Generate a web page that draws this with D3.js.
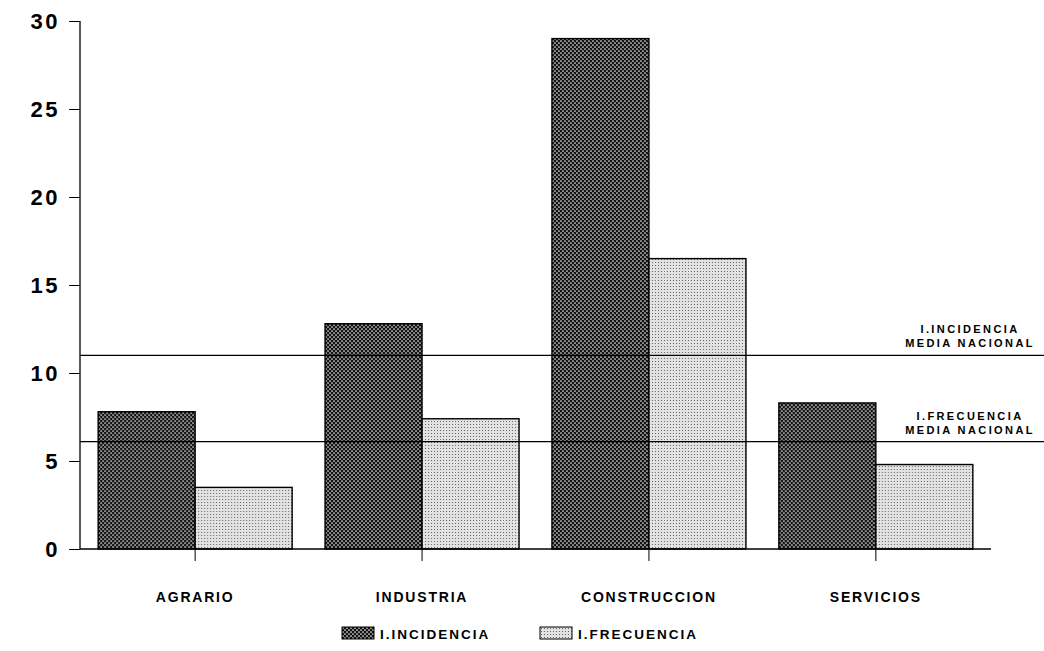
<!DOCTYPE html>
<html>
<head>
<meta charset="utf-8">
<script src="https://cdn.jsdelivr.net/npm/d3@7"></script>
<style>
  body { margin: 0; background: white; }
  #chart text { font-family: "Liberation Sans", Arial, sans-serif; font-weight: bold; fill: black; }
</style>
</head>
<body>
<div id="chart"></div>
<script>
// Data
var sectores = ["AGRARIO", "INDUSTRIA", "CONSTRUCCION", "SERVICIOS"];
var incidencia = [7.8, 12.8, 29.0, 8.3];
var frecuencia = [3.5, 7.4, 16.5, 4.8];
var series = ["I.INCIDENCIA", "I.FRECUENCIA"];
var mediaIncidencia = 11.0;
var mediaFrecuencia = 6.1;
var yTicks = [0, 5, 10, 15, 20, 25, 30];

function DrawChart() {
    var w = 1044, h = 651;

    var svg = d3.select("#chart").append("svg")
        .attr("width", w)
        .attr("height", h);

    // Halftone-like fills
    var defs = svg.append("defs");
    var dark = defs.append("pattern")
        .attr("id", "pdark")
        .attr("patternUnits", "userSpaceOnUse")
        .attr("width", 4).attr("height", 4);
    dark.append("rect").attr("width", 4).attr("height", 4).attr("fill", "#111");
    dark.append("circle").attr("cx", 1).attr("cy", 1).attr("r", 0.85).attr("fill", "#f4f4f4");
    dark.append("circle").attr("cx", 3).attr("cy", 3).attr("r", 0.85).attr("fill", "#f4f4f4");

    var light = defs.append("pattern")
        .attr("id", "plight")
        .attr("patternUnits", "userSpaceOnUse")
        .attr("width", 3).attr("height", 3);
    light.append("rect").attr("width", 3).attr("height", 3).attr("fill", "#e2e2e2");
    light.append("rect").attr("x", 1).attr("y", 1).attr("width", 1).attr("height", 1).attr("fill", "#666");

    var fills = ["url(#pdark)", "url(#plight)"];

    // Scales
    var y = d3.scaleLinear().domain([0, 30]).range([549, 21]);
    var x = d3.scaleBand().domain(sectores).range([80, 991])
        .paddingInner(0.145).paddingOuter(0.08);
    var xs = d3.scaleBand().domain([0, 1]).range([0, x.bandwidth()]);

    // Bars
    var rows = sectores.map(function(s, i) { return {s: s, v: [incidencia[i], frecuencia[i]]}; });
    var groups = svg.selectAll("g.grupo")
        .data(rows)
        .enter().append("g")
        .attr("class", "grupo")
        .attr("transform", function(d) { return "translate(" + x(d.s) + ",0)"; });
    groups.selectAll("rect")
        .data(function(d) { return d.v; })
        .enter().append("rect")
        .attr("x", function(d, k) { return xs(k); })
        .attr("y", function(d) { return y(d); })
        .attr("width", xs.bandwidth())
        .attr("height", function(d) { return y(0) - y(d); })
        .attr("fill", function(d, k) { return fills[k]; })
        .attr("stroke", "black")
        .attr("stroke-width", 1.4);

    // Y axis
    var yAxis = svg.append("g")
        .attr("transform", "translate(80,0)")
        .call(d3.axisLeft(y).tickValues(yTicks).tickSize(11).tickPadding(9));
    yAxis.select(".domain").attr("stroke-width", 1.3).attr("d", "M0,21V549");
    yAxis.selectAll(".tick line").attr("stroke-width", 1);
    yAxis.selectAll(".tick text")
        .style("font-size", "22px")
        .style("letter-spacing", "2.5px")
        .attr("dy", "0.36em");

    // X axis
    var xAxis = svg.append("g")
        .attr("transform", "translate(0,549)")
        .call(d3.axisBottom(x).tickSize(12).tickPadding(31));
    xAxis.select(".domain").attr("stroke-width", 1.3).attr("d", "M80,0H991");
    xAxis.selectAll(".tick text")
        .style("font-size", "14px")
        .style("letter-spacing", "1.8px");

    // National average lines
    var medias = [
        {v: mediaIncidencia, l1: "I.INCIDENCIA", l2: "MEDIA NACIONAL"},
        {v: mediaFrecuencia, l1: "I.FRECUENCIA", l2: "MEDIA NACIONAL"}
    ];
    medias.forEach(function(m) {
        svg.append("line")
            .attr("x1", 80).attr("x2", w)
            .attr("y1", y(m.v)).attr("y2", y(m.v))
            .attr("stroke", "black")
            .attr("stroke-width", 1.2);
        svg.append("text")
            .text(m.l1)
            .attr("x", 970)
            .attr("y", y(m.v) - 22)
            .style("text-anchor", "middle")
            .style("font-size", "11px")
            .style("letter-spacing", "2.4px");
        svg.append("text")
            .text(m.l2)
            .attr("x", 970)
            .attr("y", y(m.v) - 8)
            .style("text-anchor", "middle")
            .style("font-size", "11px")
            .style("letter-spacing", "2.4px");
    });

    // Legend
    var legX = [342, 540];
    var leg = svg.selectAll("g.leg")
        .data(series)
        .enter().append("g")
        .attr("class", "leg")
        .attr("transform", function(d, i) { return "translate(" + legX[i] + ",627)"; });
    leg.append("rect")
        .attr("width", 32).attr("height", 12)
        .attr("fill", function(d, i) { return fills[i]; })
        .attr("stroke", "black");
    leg.append("text")
        .text(function(d) { return d; })
        .attr("x", 38)
        .attr("y", 12)
        .style("font-size", "13.5px")
        .style("letter-spacing", "2px");
}

DrawChart();
</script>
</body>
</html>
